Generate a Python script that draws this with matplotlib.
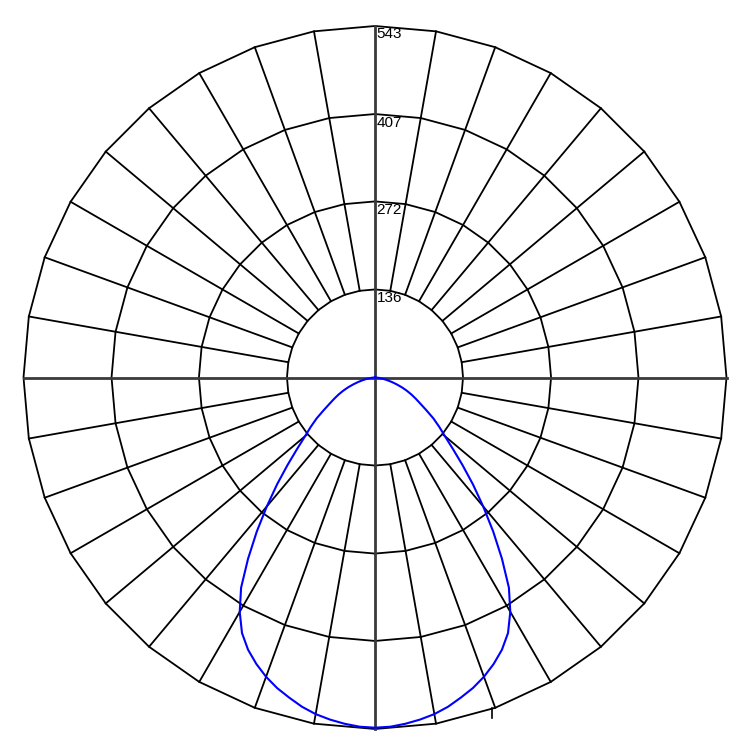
import numpy as np
import matplotlib
matplotlib.use("Agg")
import matplotlib.pyplot as plt

# Data
ring_values = [136, 272, 407, 543]
ring_labels = ["136", "272", "407", "543"]
half_angles = [0, 2.5, 5, 7.5, 10, 12.5, 15, 17.5, 20, 22.5, 25, 27.5, 30, 32.5, 35, 37.5, 40,
               42.5, 45, 47.5, 50, 52.5, 55, 57.5, 60, 62.5, 65, 67.5, 70, 72.5, 75, 77.5, 80,
               82.5, 85, 87.5, 90]
half_intensity = [541, 540, 537, 533, 528, 521, 512, 503, 492, 479, 464, 445, 418, 385, 342, 300, 260,
                  224, 191, 163, 141, 125, 110, 94, 81, 71, 62, 53, 44, 35, 27, 20, 14,
                  9, 5, 2, 0]

# full C0-C180 plane (symmetric distribution)
angles_deg = [-a for a in half_angles[::-1]] + half_angles[1:]
intensity = half_intensity[::-1] + half_intensity[1:]

rmax = ring_values[-1]
px_per_unit = 351.5 / rmax
W = 750
cx, cy = 375, 377.5

fig = plt.figure(figsize=(7.5, 7.5), dpi=100)
ax = fig.add_axes([0, 0, 1, 1])
ax.set_xlim(-cx / px_per_unit, (W - cx) / px_per_unit)
ax.set_ylim(-(W - cy) / px_per_unit, cy / px_per_unit)
ax.set_aspect("equal")
ax.axis("off")

def xy(r, deg):
    t = np.radians(deg)
    return r * np.sin(t), -r * np.cos(t)

grid_angles = np.arange(0, 361, 10)
# rings as polygons
for rv in ring_values:
    x, y = xy(rv, grid_angles)
    ax.plot(x, y, color="black", lw=1.3, zorder=2)

# radial lines
for a in range(0, 360, 10):
    if a % 90 == 0:
        continue
    x, y = xy(np.array([ring_values[0], rmax]), a)
    ax.plot(x, y, color="black", lw=1.3, zorder=2)

# main axes
ax.plot([-rmax, rmax], [0, 0], color="#3a3a3a", lw=2.0, zorder=3)
ax.plot([0, 0], [-rmax, rmax], color="#3a3a3a", lw=2.0, zorder=3)

# ring labels
for rv, lab in zip(ring_values, ring_labels):
    ax.text(1.5 / px_per_unit, rv - 1.5 / px_per_unit, lab, ha="left", va="top",
            fontsize=11, family="Liberation Sans", color="black", zorder=4)

# small tick mark at 20 deg vertex
tx, ty = xy(rmax, 20)
ax.plot([tx - 3 / px_per_unit, tx - 3 / px_per_unit], [ty, ty - 10 / px_per_unit],
        color="black", lw=1.2, zorder=4)

# intensity curve
x, y = xy(np.array(intensity, dtype=float), np.array(angles_deg, dtype=float))
ax.plot(x, y, color="#0000ff", lw=1.5, zorder=5)

fig.savefig("out.png", dpi=100, facecolor="white")
